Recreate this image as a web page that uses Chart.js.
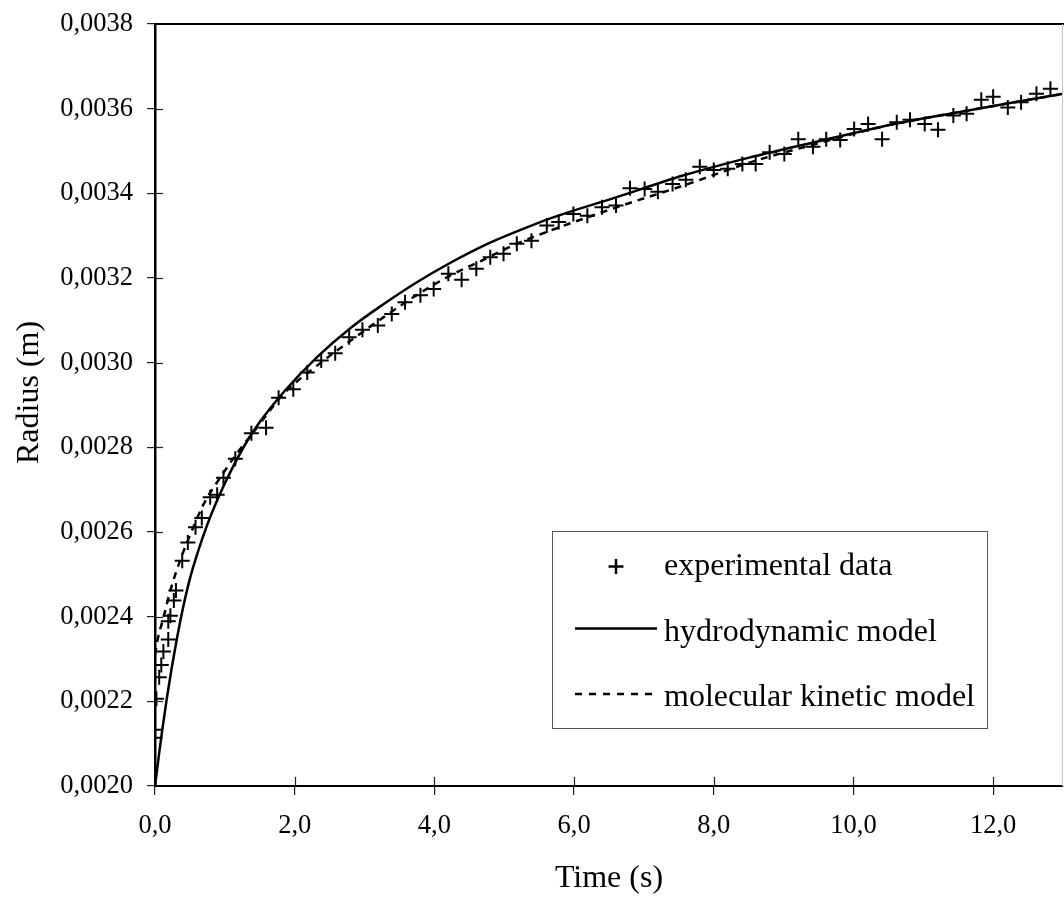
<!DOCTYPE html>
<html>
<head>
<meta charset="utf-8">
<script src="https://cdn.jsdelivr.net/npm/chart.js@4.4.1/dist/chart.umd.min.js"></script>
<style>
html,body{margin:0;padding:0;background:#fff;}
#wrap{width:1064px;height:898px;position:relative;}
</style>
</head>
<body>
<div id="wrap"><canvas id="c"></canvas></div>
<script>
// ---- data ----
const expTime = [0.00,0.00,0.02,0.06,0.09,0.12,0.19,0.19,0.22,0.27,0.30,0.39,0.47,0.58,0.67,0.79,0.89,0.98,1.15,1.38,1.59,1.77,1.98,2.18,2.38,2.58,2.78,2.97,3.19,3.39,3.58,3.80,3.99,4.20,4.39,4.60,4.80,4.99,5.18,5.39,5.61,5.78,5.99,6.19,6.40,6.60,6.80,7.01,7.20,7.41,7.60,7.80,8.00,8.20,8.41,8.60,8.80,9.01,9.21,9.42,9.61,9.81,10.01,10.21,10.41,10.62,10.81,11.02,11.21,11.43,11.62,11.83,12.00,12.21,12.40,12.62,12.82];
const expRadius = [0.002114,0.002133,0.002206,0.002257,0.002286,0.002318,0.002346,0.002389,0.002402,0.002438,0.002462,0.002532,0.002575,0.002611,0.002633,0.002682,0.002688,0.002728,0.002773,0.002833,0.002846,0.002917,0.002937,0.002977,0.003005,0.003022,0.003060,0.003078,0.003088,0.003115,0.003143,0.003159,0.003174,0.003210,0.003196,0.003222,0.003249,0.003257,0.003281,0.003288,0.003324,0.003332,0.003351,0.003347,0.003367,0.003371,0.003412,0.003410,0.003404,0.003422,0.003432,0.003463,0.003455,0.003458,0.003469,0.003469,0.003497,0.003493,0.003528,0.003510,0.003528,0.003526,0.003552,0.003564,0.003528,0.003568,0.003574,0.003564,0.003550,0.003584,0.003588,0.003621,0.003628,0.003603,0.003615,0.003635,0.003647];

const hydroTime = [0,0.05,0.10,0.17,0.24,0.31,0.40,0.50,0.62,0.75,0.89,1.08,1.32,1.51,1.84,2.32,2.80,3.27,3.75,4.23,4.70,5.18,5.66,6.61,7.56,8.52,9.47,10.42,11.38,12.2,13.0];
const hydroRadius = [0.002000,0.002065,0.002128,0.002208,0.002280,0.002345,0.002420,0.002490,0.002556,0.002618,0.002675,0.002742,0.002815,0.002862,0.002930,0.003013,0.003082,0.003138,0.003190,0.003236,0.003276,0.003310,0.003341,0.003391,0.003442,0.003485,0.003522,0.003558,0.003588,0.003612,0.003635];

const mkTime = [0,0.03,0.125,0.22,0.36,0.51,0.70,0.94,1.17,1.41,1.84,2.32,2.80,3.27,3.75,4.23,4.70,5.18,5.66,6.61,7.56,8.52,9.47,10.42,11.38,12.2,13.0];
const mkRadius = [0.002310,0.002340,0.002400,0.002462,0.002533,0.002596,0.002667,0.002730,0.002785,0.002836,0.002926,0.002993,0.003052,0.003107,0.003160,0.003206,0.003243,0.003281,0.003312,0.003367,0.003418,0.003473,0.003517,0.003558,0.003588,0.003612,0.003635];

const xTickValues = [0,2,4,6,8,10,12];
const yTickValues = [0.0020,0.0022,0.0024,0.0026,0.0028,0.0030,0.0032,0.0034,0.0036,0.0038];
const legendLabels = ['experimental data','hydrodynamic model','molecular kinetic model'];
const xTitle = 'Time (s)';
const yTitle = 'Radius (m)';

const toXY = (xs, ys) => xs.map((x,i)=>({x:x, y:ys[i]}));
const FONT = '"Liberation Serif", "Times New Roman", serif';

const decor = {
  id:'decor',
  afterDraw(chart){
    const {ctx, chartArea:a, scales:{x,y}} = chart;
    const line=(x1,y1,x2,y2)=>{ctx.beginPath();ctx.moveTo(x1,y1);ctx.lineTo(x2,y2);ctx.stroke();};
    ctx.save();
    // top border
    ctx.strokeStyle='#000'; ctx.lineWidth=2;
    line(a.left-1, a.top, a.right+1, a.top);
    // right border
    ctx.strokeStyle='#c8c8c8'; ctx.lineWidth=1;
    line(a.right-0.5, a.top, a.right-0.5, a.bottom);
    // inward tick halves
    ctx.strokeStyle='#222'; ctx.lineWidth=1.2;
    x.ticks.forEach(t=>{const px=Math.round(x.getPixelForValue(t.value))+0.5; if(px>a.left+3) line(px,a.bottom,px,a.bottom-9);});
    y.ticks.forEach(t=>{const py=Math.round(y.getPixelForValue(t.value))+0.5; if(py<a.bottom-3 && py>a.top+3) line(a.left,py,a.left+8,py);});
    // y axis title
    ctx.save();
    ctx.translate(38, 392.5);
    ctx.rotate(-Math.PI/2);
    ctx.fillStyle='#000'; ctx.font='32px '+FONT; ctx.textAlign='center'; ctx.textBaseline='alphabetic';
    ctx.fillText(yTitle, 0, 0);
    ctx.restore();
    // legend
    const L=552, T=531, R=987, B=728;
    ctx.fillStyle='#fff'; ctx.fillRect(L,T,R-L,B-T);
    ctx.strokeStyle='#555'; ctx.lineWidth=1;
    ctx.strokeRect(L+0.5,T+0.5,R-L,B-T);
    ctx.fillStyle='#000'; ctx.font='32px '+FONT; ctx.textBaseline='alphabetic'; ctx.textAlign='left';
    const base=[575,640.5,705.5];
    legendLabels.forEach((s,i)=>ctx.fillText(s,664,base[i]));
    ctx.strokeStyle='#000'; ctx.lineWidth=2.5;
    line(608.5,566.5,623.5,566.5); line(616,559,616,574);
    line(575,628.5,657,628.5);
    ctx.setLineDash([7,7]);
    line(575,694,657,694);
    ctx.setLineDash([]);
    ctx.restore();
  }
};

new Chart(document.getElementById('c'), {
  type:'scatter',
  data:{
    datasets:[
      {label:legendLabels[1], data:toXY(hydroTime,hydroRadius), showLine:true, borderColor:'#000', borderWidth:2.5, pointRadius:0, cubicInterpolationMode:'monotone', fill:false},
      {label:legendLabels[2], data:toXY(mkTime,mkRadius), showLine:true, borderColor:'#000', borderWidth:2.5, borderDash:[7,6], pointRadius:0, cubicInterpolationMode:'monotone', fill:false},
      {label:legendLabels[0], data:toXY(expTime,expRadius), showLine:false, pointStyle:'cross', pointRadius:7.5, pointBorderWidth:2, pointBorderColor:'#000', pointBackgroundColor:'#000'}
    ]
  },
  options:{
    responsive:true, maintainAspectRatio:false, animation:false,
    layout:{autoPadding:false, padding:{top:24,right:1,left:0,bottom:0}},
    plugins:{legend:{display:false}, tooltip:{enabled:false}},
    scales:{
      x:{
        type:'linear', min:0, max:13,
        afterBuildTicks:s=>{s.ticks=xTickValues.map(v=>({value:v}));},
        afterFit:s=>{s.height=112; s.paddingLeft=0; s.paddingRight=0;},
        ticks:{color:'#000', font:{family:FONT,size:26.5}, padding:15, maxRotation:0, autoSkip:false,
          callback:v=>v.toFixed(1).replace('.',',')},
        grid:{display:true, drawOnChartArea:false, drawTicks:true, tickLength:9, color:'#222', lineWidth:1.2},
        border:{display:true, color:'#000', width:2},
        title:{display:true, text:xTitle, color:'#000', font:{family:FONT,size:32}, padding:{top:0,bottom:0}}
      },
      y:{
        type:'linear', min:0.0020, max:0.0038,
        afterBuildTicks:s=>{s.ticks=yTickValues.map(v=>({value:v}));},
        afterFit:s=>{s.width=155; s.paddingTop=0; s.paddingBottom=0;},
        ticks:{color:'#000', font:{family:FONT,size:26.5}, padding:14, autoSkip:false,
          callback:v=>v.toFixed(4).replace('.',',')},
        grid:{display:true, drawOnChartArea:false, drawTicks:true, tickLength:8, color:'#222', lineWidth:1.2},
        border:{display:true, color:'#000', width:2.5},
        title:{display:false, text:yTitle}
      }
    }
  },
  plugins:[decor]
});
</script>
</body>
</html>
